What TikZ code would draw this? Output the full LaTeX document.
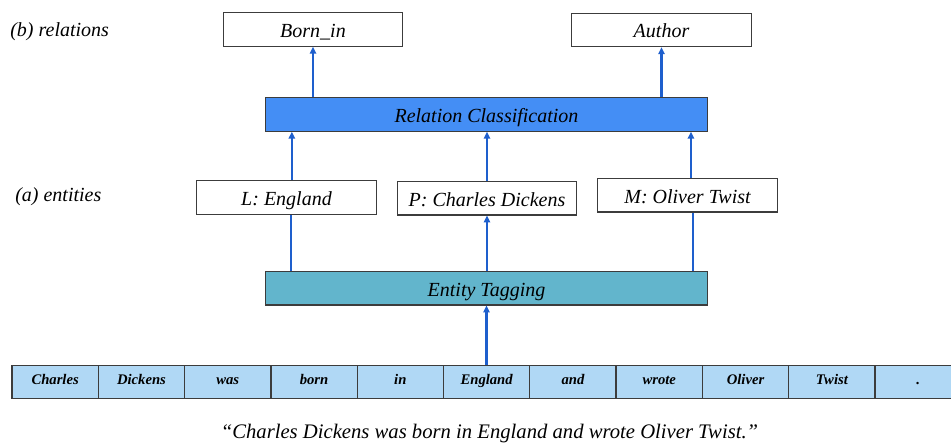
\documentclass[tikz,border=0pt]{standalone}
\usepackage{fontspec}
\setmainfont{Liberation Serif}
\usetikzlibrary{arrows.meta}

\definecolor{boxline}{RGB}{60,60,60}
\definecolor{rcfill}{RGB}{68,142,245}
\definecolor{etfill}{RGB}{98,181,204}
\definecolor{tokfill}{RGB}{176,216,245}
\definecolor{arrowblue}{RGB}{30,95,205}

\tikzset{
  labelbox/.style={draw=boxline, line width=0.9pt, fill=white, inner sep=0pt,
    minimum width=134.5pt, minimum height=25pt, text height=13pt, text depth=1pt,
    font=\fontsize{15}{17}\selectfont\itshape},
  layerbox/.style={draw=boxline, line width=0.9pt, inner sep=0pt,
    minimum width=332pt, minimum height=25pt, text height=13pt, text depth=1pt,
    font=\fontsize{15}{17}\selectfont\itshape},
  tokbox/.style={draw=boxline, line width=0.9pt, fill=tokfill, inner sep=0pt,
    minimum width=64.7pt, minimum height=24.5pt, text height=8pt, text depth=3.8pt,
    font=\fontsize{11}{13}\selectfont\bfseries\itshape},
  sidelabel/.style={font=\fontsize{15}{17}\selectfont\itshape, inner sep=0pt, anchor=west},
  arr/.style={draw=arrowblue, line width=1.6pt, -{Triangle[length=5.2pt,width=4.8pt]}},
  plainlink/.style={draw=arrowblue, line width=1.6pt}
}

\begin{document}
\begin{tikzpicture}[x=0.75pt, y=-0.75pt]
  \clip (0,0) rectangle (951,445);

  % side labels
  \node[sidelabel] (lblrel) at (10,32) {(b) relations};
  \node[sidelabel] (lblent) at (15,197) {(a) entities};

  % relation outputs
  \node[labelbox] (born) at (313,29.5) {Born\_in};
  \node[labelbox] (author) at (661.5,30) {Author};

  % relation classification layer
  \node[layerbox, fill=rcfill] (rc) at (486.5,114.5) {Relation Classification};

  % entities
  \node[labelbox] (ent1) at (286.5,197.5) {L: England};
  \node[labelbox] (ent2) at (487,198.3) {P: Charles Dickens};
  \node[labelbox] (ent3) at (687.5,195.3) {M: Oliver Twist};

  % entity tagging layer
  \node[layerbox, fill=etfill] (et) at (486.5,288.3) {Entity Tagging};

  % token row
  \foreach \w [count=\i] in {Charles,Dickens,was,born,in,England,and,wrote,Oliver,Twist,.} {
    \node[tokbox] (t\i) at ({12+86.3*(\i-0.5)},382) {\w};
  }

  % bottom sentence
  \node[font=\fontsize{15.5}{18}\selectfont\itshape, inner sep=0pt] (sent) at (489.5,434)
    {“Charles Dickens was born in England and wrote Oliver Twist.”};

  % token row to entity tagging
  \draw[arr] (t6.north -| et.south) -- (et.south);

  % entity tagging to entities
  \draw[plainlink] ([xshift=3.4pt]ent1.south |- et.north) -- ([xshift=3.4pt]ent1.south);
  \draw[arr] (ent2.south |- et.north) -- (ent2.south);
  \draw[plainlink] ([xshift=3.9pt]ent3.south |- et.north) -- ([xshift=3.9pt]ent3.south);

  % entities to relation classification
  \draw[arr] ([xshift=4pt]ent1.north) -- ([xshift=4pt]ent1.north |- rc.south);
  \draw[arr] (ent2.north) -- (ent2.north |- rc.south);
  \draw[arr] ([xshift=2.6pt]ent3.north) -- ([xshift=2.6pt]ent3.north |- rc.south);

  % relation classification to relations
  \draw[arr] (born.south |- rc.north) -- (born.south);
  \draw[arr] (author.south |- rc.north) -- (author.south);
\end{tikzpicture}
\end{document}
